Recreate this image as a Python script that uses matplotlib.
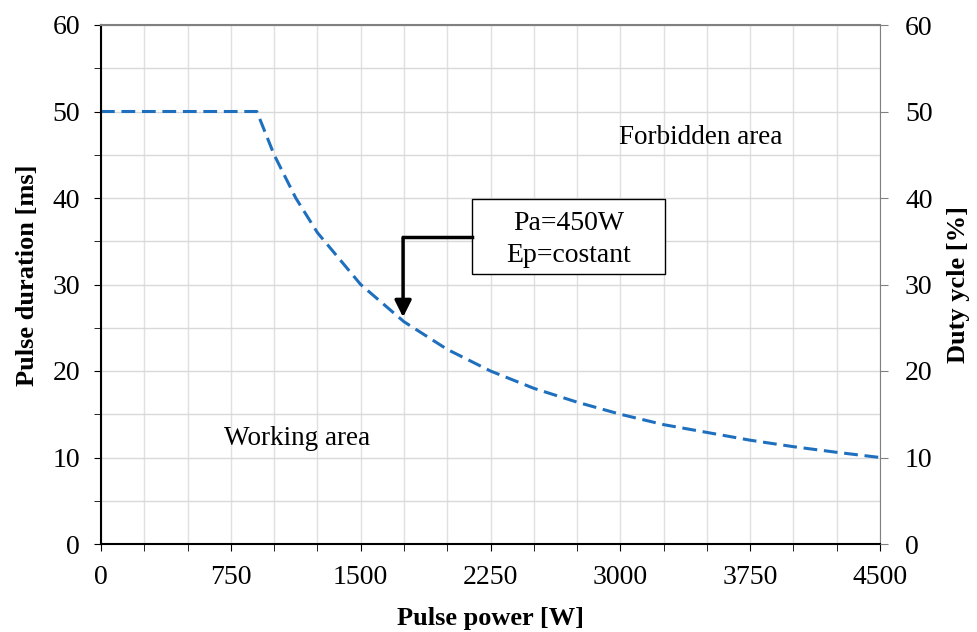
import matplotlib
matplotlib.use('Agg')
from matplotlib import pyplot as plt
from matplotlib.ticker import MultipleLocator
from matplotlib.patches import Rectangle

# pulse power [W] vs pulse duration [ms]
power = [0, 900, 1000, 1125, 1250, 1500, 1750, 2000, 2250, 2500, 2750, 3000, 3250, 3500, 3750, 4000, 4250, 4500]
duration = [50, 50, 45, 40, 36, 30, 25.7, 22.5, 20, 18, 16.4, 15, 13.8, 12.9, 12, 11.25, 10.6, 10]

x_ticks = [0, 750, 1500, 2250, 3000, 3750, 4500]
y_ticks = [0, 10, 20, 30, 40, 50, 60]

plt.rcParams['font.family'] = ['Liberation Serif', 'DejaVu Serif']
fig = plt.figure(figsize=(9.78, 6.32), dpi=100)
ax = fig.add_axes([101/978, 88/632, 779/978, 519/632])

ax.plot(power, duration, color='#1F6FBF', linewidth=2.2, linestyle=(0, (4.5, 2.2)))

ax.set_xlim(0, 4500)
ax.set_ylim(0, 60)
ax.set_xticks(x_ticks)
ax.set_yticks(y_ticks)
ax.xaxis.set_minor_locator(MultipleLocator(250))
ax.yaxis.set_minor_locator(MultipleLocator(5))
ax.grid(which='both', axis='y', color='#d9d9d9', linewidth=1)
ax.grid(which='both', axis='x', color='#e0e0e0', linewidth=1)
ax.set_axisbelow(True)
ax.tick_params(which='both', direction='out', labelsize=20, color='black', length=5)
ax.tick_params(axis='y', pad=10)
ax.tick_params(axis='x', pad=10)
ax.spines['left'].set_linewidth(1.5)
ax.spines['bottom'].set_linewidth(1.5)
ax.spines['top'].set_color('#808080')
ax.spines['top'].set_linewidth(1.5)
ax.spines['right'].set_color('#808080')

ax.set_xlabel('Pulse power [W]', fontsize=19, fontweight='bold', labelpad=12)
ax.set_ylabel('Pulse duration [ms]', fontsize=19, fontweight='bold', labelpad=10)
ax.yaxis.label.set_y(0.518)

ax2 = ax.twinx()
ax2.set_ylim(0, 60)
ax2.set_yticks(y_ticks)
ax2.tick_params(direction='out', labelsize=20, color='#808080', length=6, pad=12)
ax2.set_ylabel('Duty ycle [%]', fontsize=19, fontweight='bold', labelpad=10)
for s in ax2.spines.values():
    s.set_visible(False)

ax.text(3466, 47.05, 'Forbidden area', fontsize=19.5, ha='center', va='center')
ax.text(1132, 12.25, 'Working area', fontsize=19.5, ha='center', va='center')

# annotation box with elbow arrow
ax.add_patch(Rectangle((2143, 31.2), 1115, 8.7, facecolor='white', edgecolor='black',
                       linewidth=1, zorder=3))
ax.text(2700, 37.0, 'Pa=450W', fontsize=20, ha='center', va='center', zorder=4)
ax.text(2700, 33.4, 'Ep=costant', fontsize=20, ha='center', va='center', zorder=4)
ax.plot([2143, 1745], [35.5, 35.5], color='black', linewidth=2.5, zorder=4)
ax.annotate('', xy=(1745, 25.9), xytext=(1745, 35.7),
            arrowprops=dict(arrowstyle='-|>,head_width=0.5,head_length=1.0',
                            color='black', linewidth=2.5), zorder=4)

fig.savefig('out.png', dpi=100)
